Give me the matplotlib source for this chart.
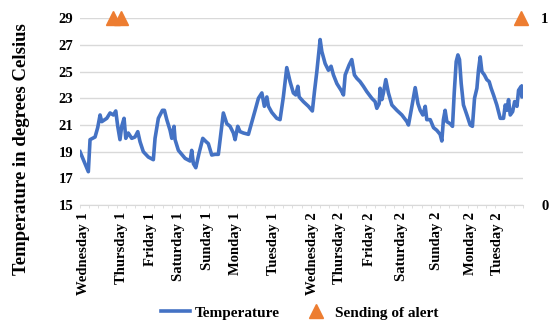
import matplotlib
matplotlib.use("Agg")
import matplotlib.pyplot as plt
from matplotlib.lines import Line2D

plt.rcParams['font.family'] = ['Liberation Serif', 'DejaVu Serif']

# Time in hours from start of "Wednesday 1"; temperature in degrees Celsius
hours = [0, 6.3, 7.6, 11.4, 13.4, 15.2, 16.5, 20.3, 22.8, 25.3, 27.1, 28.6, 30.3, 31.6,
         33.4, 34.7, 36.6, 39.2, 41.7, 43.8, 45.5, 48.0, 51.8, 55.6, 56.9, 59.4, 62.5,
         64.0, 65.8, 68.3, 69.6, 71.3, 72.1, 74.6, 79.7, 83.5, 84.7, 86.0, 87.8, 90.3,
         93.1, 95.6, 97.3, 99.9, 102.4, 104.9, 106.7, 108.7, 111.3, 113.8, 116.3, 117.6,
         119.6, 121.4, 123.9, 127.7, 129.7, 132.8, 135.3, 137.9, 139.8, 141.7, 142.9,
         145.4, 149.2, 151.7, 154.2, 156.8, 159.3, 161.8, 163.6, 165.2, 166.2, 169.4,
         173.2, 176.2, 177.8, 179.6, 182.1, 183.4, 185.9, 188.4, 190.4, 192.2, 194.8,
         198.0, 199.8, 201.1, 204.1, 206.1, 208.1, 209.9, 212.4, 214.9, 217.5, 221.3,
         223.8, 225.1, 226.9, 227.6, 228.9, 230.1, 231.9, 233.9, 236.5, 240.3, 244.1,
         247.9, 249.1, 251.7, 254.2, 256.3, 258.0, 260.0, 261.8, 263.0, 265.6, 268.1,
         270.6, 273.1, 274.4, 275.6, 276.9, 278.2, 280.7, 282.5, 283.8, 285.3, 286.6,
         287.8, 289.1, 290.8, 293.4, 295.9, 297.6, 299.2, 301.0, 302.2, 303.5, 304.8,
         306.7, 308.5, 310.3, 311.8, 313.6, 316.1, 318.7, 321.2, 322.5, 323.8, 325.0,
         326.3, 328.1, 329.6, 331.4, 332.6, 334.6, 335.1, 335.9]
temperature = [19.0, 17.5, 19.9, 20.1, 20.8, 21.75, 21.25, 21.5, 21.9, 21.75, 22.05, 20.9,
               19.9, 20.9, 21.5, 20.0, 20.4, 20.0, 20.1, 20.5, 19.75, 19.0, 18.6, 18.4,
               20.0, 21.5, 22.1, 22.1, 21.4, 20.6, 20.0, 20.9, 19.9, 19.1, 18.5, 18.3,
               19.1, 18.1, 17.8, 18.9, 20.0, 19.75, 19.6, 18.75, 18.8, 18.8, 20.3, 21.9,
               21.1, 20.9, 20.4, 19.9, 20.9, 20.5, 20.4, 20.3, 21.0, 22.1, 23.0, 23.4,
               22.4, 23.1, 22.4, 21.95, 21.5, 21.4, 23.1, 25.3, 24.25, 23.4, 23.25, 23.9,
               23.1, 22.75, 22.4, 22.05, 23.5, 25.0, 27.4, 26.5, 25.6, 25.1, 25.4, 24.75,
               24.1, 23.6, 23.25, 24.75, 25.5, 25.9, 24.75, 24.5, 24.25, 23.9, 23.5, 23.0,
               22.75, 22.25, 22.6, 23.75, 22.9, 23.4, 24.4, 23.4, 22.5, 22.1, 21.75, 21.25,
               21.0, 22.4, 23.8, 22.6, 22.1, 21.75, 22.4, 21.4, 21.4, 20.8, 20.6, 20.3,
               19.8, 21.4, 22.1, 21.25, 21.1, 20.9, 23.4, 25.75, 26.25, 25.9, 24.1, 22.5,
               21.75, 21.0, 20.9, 23.0, 23.75, 25.1, 26.1, 25.0, 24.75, 24.4, 24.25, 23.75,
               23.25, 22.5, 21.5, 21.5, 22.5, 22.1, 22.9, 21.75, 22.0, 22.75, 22.4, 23.6,
               23.9, 23.1, 23.9]

alert_hours = [25.0, 31.1, 334.6]
alert_values = [1, 1, 1]

day_labels = ['Wednesday 1', 'Thursday 1', 'Friday 1', 'Saturday 1', 'Sunday 1',
              'Monday 1', 'Tuesday 1', 'Wednesday 2', 'Thursday 2', 'Friday 2',
              'Saturday 2', 'Sunday 2', 'Monday 2', 'Tuesday 2']
day_positions = [2.5, 31.1, 53.6, 74.6, 96.6, 118.1, 146.7, 176.5, 196.7, 219.2,
                 244.1, 270.6, 295.9, 316.6]

y_ticks = [15, 17, 19, 21, 23, 25, 27, 29]

blue = '#4472C4'
orange = '#ED7D31'
grid_c = '#D9D9D9'

fig = plt.figure(figsize=(5.5, 3.25), dpi=100)
ax = fig.add_axes([0.1455, 0.369, 0.8055, 0.575])
ax.set_xlim(0, 336)
ax.set_ylim(15, 29)
ax.set_yticks(y_ticks)
ax.set_yticklabels([str(v) for v in y_ticks], fontweight='bold', fontsize=10.5)
ax.grid(axis='y', color=grid_c, linewidth=1.0)
ax.set_axisbelow(True)
for s in ['top', 'right', 'left']:
    ax.spines[s].set_visible(False)
ax.spines['bottom'].set_color(grid_c)
ax.tick_params(axis='y', length=0, pad=5)
ax.set_xticks(day_positions)
ax.set_xticklabels(day_labels, rotation=90, fontweight='bold', fontsize=10.5)
ax.tick_params(axis='x', length=0, pad=5)
ax.set_xticks(range(0, 337, 7), minor=True)
ax.tick_params(axis='x', which='minor', length=2, color=grid_c)

ax.plot(hours, temperature, color=blue, linewidth=2.6, solid_joinstyle='round')
ax.set_ylabel('Temperature in degrees Celsius', fontweight='bold', fontsize=13.5)
ax.yaxis.set_label_coords(-0.112, 0.30)

ax2 = ax.twinx()
ax2.set_ylim(0, 1)
ax2.set_yticks([0, 1])
ax2.set_yticklabels(['0', '1'], fontweight='bold', fontsize=10.5)
ax2.tick_params(axis='y', length=0, pad=13)
for s in ['top', 'right', 'left', 'bottom']:
    ax2.spines[s].set_visible(False)
ax2.plot(alert_hours, alert_values, linestyle='none', marker='^', color=orange,
         markersize=10, clip_on=False)

handles = [Line2D([0], [0], color=blue, linewidth=2.6),
           Line2D([0], [0], linestyle='none', marker='^', color=orange, markersize=10)]
fig.legend(handles, ['Temperature', 'Sending of alert'], loc='center',
           bbox_to_anchor=(0.545, 0.037), ncol=2, frameon=False,
           prop={'weight': 'bold', 'size': 11}, handlelength=1.9,
           handletextpad=0.3, columnspacing=1.4)

fig.savefig('out.png', dpi=100)
